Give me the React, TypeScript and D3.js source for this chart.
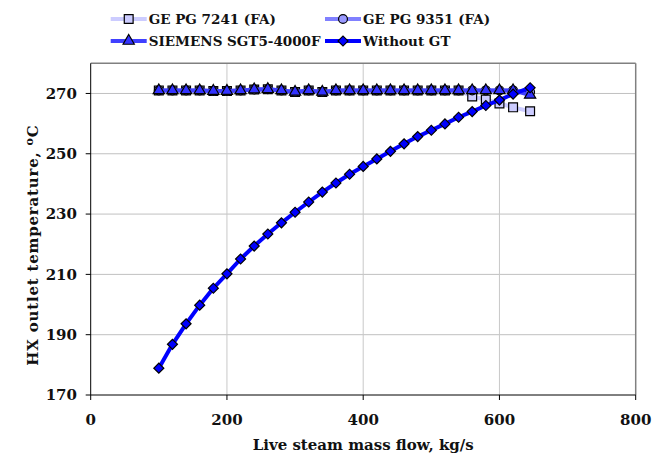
import React from "react";
import * as d3 from "d3";

// live steam mass flow, kg/s
const massFlow = [100, 120, 140, 160, 180, 200, 220, 240, 260, 280, 300, 320, 340, 360, 380, 400, 420, 440, 460, 480, 500, 520, 540, 560, 580, 600, 620, 645];

// HX outlet temperature, oC
const gePG7241 = [271.0, 271.0, 271.0, 271.0, 270.8, 270.8, 271.0, 271.3, 271.4, 271.0, 270.5, 271.0, 270.5, 271.0, 271.0, 271.0, 271.0, 271.0, 271.0, 271.0, 271.0, 271.0, 271.0, 269.0, 268.0, 266.7, 265.4, 264.1];
const gePG9351 = [271.0, 271.0, 271.0, 271.0, 270.8, 270.8, 271.0, 271.3, 271.4, 271.0, 270.5, 271.0, 270.5, 271.0, 271.0, 271.0, 271.0, 271.0, 271.0, 271.0, 271.0, 271.0, 271.0, 271.0, 271.0, 271.0, 271.0, 270.5];
const siemensSGT5 = [271.0, 271.0, 271.0, 271.0, 270.8, 270.8, 271.0, 271.3, 271.4, 271.0, 270.5, 271.0, 270.5, 271.0, 271.0, 271.0, 271.0, 271.0, 271.0, 271.0, 271.0, 271.0, 271.0, 271.0, 271.0, 271.0, 271.0, 269.5];
const withoutGT = [178.9, 186.8, 193.6, 199.8, 205.4, 210.2, 215.1, 219.4, 223.4, 227.1, 230.6, 234.0, 237.3, 240.3, 243.2, 245.8, 248.3, 250.8, 253.3, 255.7, 257.8, 259.9, 262.1, 264.0, 266.0, 267.8, 269.8, 271.9];

const seriesNames = ["GE PG 7241 (FA)", "GE PG 9351 (FA)", "SIEMENS SGT5-4000F", "Without GT"];
const xTicks = [0, 200, 400, 600, 800];
const yTicks = [170, 190, 210, 230, 250, 270];

const FONT = "'DejaVu Serif', serif";

const App = () => {
  const width = 669;
  const height = 459;
  const plot = { left: 90.7, right: 635.7, top: 63.3, bottom: 395 };

  const x = d3.scaleLinear().domain([0, 800]).range([plot.left, plot.right]);
  const y = d3.scaleLinear().domain([170, 280]).range([plot.bottom, plot.top]);

  const styles = [
    { values: gePG7241, line: "#ccccff", fill: "#ccccff", symbol: d3.symbolSquare, size: 78, rotate: 0 },
    { values: gePG9351, line: "#8080ff", fill: "#9999ff", symbol: d3.symbolCircle, size: 62, rotate: 0 },
    { values: siemensSGT5, line: "#4040ff", fill: "#3333ff", symbol: d3.symbolTriangle, size: 55, rotate: 0 },
    { values: withoutGT, line: "#0000ff", fill: "#0000ff", symbol: d3.symbolSquare, size: 50, rotate: 45 },
  ];

  const line = d3.line<number>()
    .x((d, i) => x(massFlow[i]))
    .y(d => y(d));

  // legend positions
  const legend = [
    { lx: 110.7, ly: 19 },
    { lx: 325, ly: 19 },
    { lx: 110.7, ly: 41 },
    { lx: 325, ly: 41 },
  ];

  return (
    <svg width={width} height={height} style={{ position: "absolute", left: 0, top: 0, background: "#fff" }}>
      {/* grid */}
      {yTicks.filter(t => t > 170).map(t => (
        <line key={"gy" + t} x1={plot.left} x2={plot.right} y1={y(t)} y2={y(t)} stroke="#c0c0c0" strokeWidth={1} />
      ))}
      {xTicks.filter(t => t > 0 && t < 800).map(t => (
        <line key={"gx" + t} x1={x(t)} x2={x(t)} y1={plot.top} y2={plot.bottom} stroke="#c8c8c8" strokeWidth={1} />
      ))}
      {/* frame */}
      <line x1={plot.left} x2={plot.right} y1={plot.top} y2={plot.top} stroke="#808080" strokeWidth={1.5} />
      <line x1={plot.right} x2={plot.right} y1={plot.top} y2={plot.bottom} stroke="#808080" strokeWidth={1.5} />
      <line x1={plot.left} x2={plot.left} y1={plot.top} y2={plot.bottom} stroke="#000" strokeWidth={1} />
      <line x1={plot.left} x2={plot.right} y1={plot.bottom} y2={plot.bottom} stroke="#000" strokeWidth={1} />

      {/* ticks */}
      {yTicks.map(t => (
        <g key={"ty" + t}>
          <line x1={plot.left - 5} x2={plot.left} y1={y(t)} y2={y(t)} stroke="#000" />
          <text x={77} y={y(t)} dy="0.35em" textAnchor="end" fontFamily={FONT} fontWeight="bold" fontSize={15} fill="#111">{t}</text>
        </g>
      ))}
      {xTicks.map(t => (
        <g key={"tx" + t}>
          <line x1={x(t)} x2={x(t)} y1={plot.bottom} y2={plot.bottom + 5} stroke="#000" />
          <text x={x(t)} y={420} dy="0.35em" textAnchor="middle" fontFamily={FONT} fontWeight="bold" fontSize={15} fill="#111">{t}</text>
        </g>
      ))}

      {/* axis titles */}
      <text x={(plot.left + plot.right) / 2} y={445} dy="0.35em" textAnchor="middle" fontFamily={FONT} fontWeight="bold" fontSize={15} fill="#111">
        Live steam mass flow, kg/s
      </text>
      <text transform={`translate(33,${(plot.top + plot.bottom) / 2 + 16}) rotate(-90)`} dy="0.35em" textAnchor="middle" fontFamily={FONT} fontWeight="bold" fontSize={15} letterSpacing={0.8} fill="#111">
        HX outlet temperature, <tspan dy="-5" fontSize={11}>o</tspan><tspan dy="5">C</tspan>
      </text>

      {/* series */}
      {styles.map((s, k) => (
        <g key={"s" + k}>
          <path d={line(s.values) || ""} fill="none" stroke={s.line} strokeWidth={4} strokeLinejoin="round" />
          {s.values.map((v, i) => (
            <path key={i}
              d={d3.symbol().type(s.symbol).size(s.size)() || ""}
              transform={`translate(${x(massFlow[i])},${y(v)}) rotate(${s.rotate})`}
              fill={s.fill} stroke="#000" strokeWidth={1.2} />
          ))}
        </g>
      ))}

      {/* legend */}
      {styles.map((s, k) => (
        <g key={"l" + k} transform={`translate(${legend[k].lx},${legend[k].ly})`}>
          <line x1={0} x2={36} y1={0} y2={0} stroke={s.line} strokeWidth={4} />
          <path d={d3.symbol().type(s.symbol).size(s.size)() || ""} transform={`translate(18,0) rotate(${s.rotate})`}
            fill={s.fill} stroke="#000" strokeWidth={1.2} />
          <text x={38} y={0} dy="0.35em" fontFamily={FONT} fontWeight="bold" fontSize={13.5} fill="#111">{seriesNames[k]}</text>
        </g>
      ))}
    </svg>
  );
};

export default App;
